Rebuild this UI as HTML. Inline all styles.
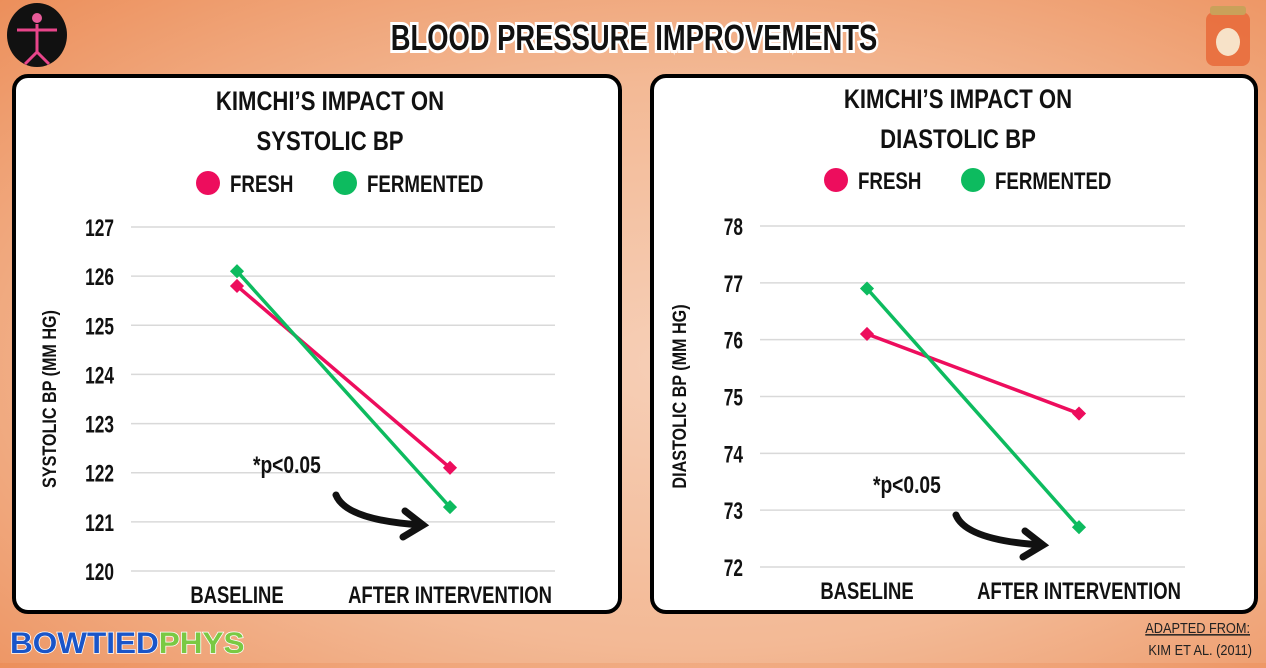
<!DOCTYPE html>
<html><head><meta charset="utf-8"><style>
html,body{margin:0;padding:0;}
body{width:1266px;height:663px;overflow:hidden;background:radial-gradient(ellipse at 55% 55%,#f6cfb7 0%,#f3b995 55%,#ec8f5b 100%);font-family:"Liberation Sans",sans-serif;}
svg text{font-family:"Liberation Sans",sans-serif;font-weight:bold;}
</style></head><body>
<svg id="s" width="1266" height="663" xmlns="http://www.w3.org/2000/svg">
<g><ellipse cx="37" cy="35" rx="30" ry="32" fill="#111"/><circle cx="37" cy="18" r="5" fill="#e85c9a"/><path d="M37 24 V52 M17 30 H57 M37 52 L25 64 M37 52 L49 64" stroke="#e8458a" stroke-width="3" fill="none"/></g>
<text transform="translate(634,50) scale(0.76,1)" text-anchor="middle" font-size="36" fill="#111" stroke="#fff" stroke-width="6" paint-order="stroke">BLOOD PRESSURE IMPROVEMENTS</text>
<g><rect x="1206" y="12" width="44" height="54" rx="8" fill="#e86a3a" opacity="0.85"/><rect x="1210" y="6" width="36" height="9" rx="3" fill="#c9a15a"/><ellipse cx="1228" cy="42" rx="12" ry="14" fill="#f7e2c8"/></g>
<rect x="14" y="76" width="606" height="536" rx="14" fill="#fff" stroke="#000" stroke-width="4"/>
<rect x="652" y="76" width="604" height="536" rx="14" fill="#fff" stroke="#000" stroke-width="4"/>
<g id="c1"></g>
<g id="c2"></g>
<text transform="translate(10,653) scale(1.05,1)" font-size="30" fill="#1a55c8" stroke="#fff" stroke-width="1.5" paint-order="stroke" font-family="Liberation Mono">BOWTIED<tspan fill="#7ac943">PHYS</tspan></text>
<text transform="translate(1250,633) scale(0.85,1)" text-anchor="end" font-size="15" fill="#222" style="font-weight:normal" text-decoration="underline">ADAPTED FROM:</text>
<text transform="translate(1252,655) scale(0.85,1)" text-anchor="end" font-size="15" fill="#222" style="font-weight:normal">KIM ET AL. (2011)</text>
</svg>
<script>
const categories=["Baseline","After Intervention"];
const sysFresh=[125.8,122.1];
const sysFerm=[126.1,121.3];
const sysTicks=[120,121,122,123,124,125,126,127];
const diaFresh=[76.1,74.7];
const diaFerm=[76.9,72.7];
const diaTicks=[72,73,74,75,76,77,78];
const NS="http://www.w3.org/2000/svg";
function mk(p,t,a){const e=document.createElementNS(NS,t);for(const k in a)e.setAttribute(k,a[k]);p.appendChild(e);return e;}
function txt(p,x,y,s,size,anchor,sx,extra){const e=mk(p,'text',Object.assign({transform:`translate(${x},${y}) ${extra||''} scale(${sx},1)`,'text-anchor':anchor,'font-size':size,fill:'#111'}));e.textContent=s;return e;}
function chart(id,o){
 const g=document.getElementById(id);
 const ymin=o.ticks[0],ymax=o.ticks[o.ticks.length-1];
 const y=v=>o.yb-(v-ymin)/(ymax-ymin)*(o.yb-o.yt);
 const x=i=>o.xs[0]+i*(o.xs[1]-o.xs[0]);
 let t=txt(g,o.cx,o.ty,"KIMCHI’S IMPACT ON",27,'middle',0.82);
 
 t=txt(g,o.cx,o.ty+40,o.title,27,'middle',0.82);
 
 [[o.cx-122,"#ed0d5d","Fresh"],[o.cx+15,"#0dbb5f","Fermented"]].forEach(([lx,c,n])=>{
  const lg=mk(g,'g',{});
  
  
  mk(lg,'circle',{cx:lx,cy:o.ly,r:12,fill:c});
  txt(lg,lx+22,o.ly+9,n.toUpperCase(),24,'start',0.78);
 });
 o.ticks.forEach(v=>{
  const l=mk(g,'line',{x1:o.gx[0],x2:o.gx[1],y1:y(v),y2:y(v),stroke:'#d9d9d9','stroke-width':1.5});
  
  const tl=txt(g,o.gx[0]-17,y(v)+9,String(v),24,'end',0.72);
  
 });
 const at=txt(g,o.ax,(o.yt+o.yb)/2,o.ytitle,19,'middle',0.85,'rotate(-90)');
 
 categories.forEach((c,i)=>{const ct=txt(g,x(i),o.yb+32,c.toUpperCase(),24,'middle',0.77);
  });
 [[o.fresh,"#ed0d5d","fresh"],[o.ferm,"#0dbb5f","fermented"]].forEach(([d,c,n])=>{
  const pl=mk(g,'polyline',{points:d.map((v,i)=>x(i)+','+y(v)).join(' '),fill:'none',stroke:c,'stroke-width':3.5});
  
  d.forEach((v,i)=>{const p=mk(g,'rect',{x:x(i)-5,y:y(v)-5,width:10,height:10,fill:c,transform:`rotate(45 ${x(i)} ${y(v)})`});
   });
 });
 const pt=txt(g,o.px,o.py,"*p<0.05",24,'start',0.8);
 
 const ar=mk(g,'path',{d:`M${o.px+83} ${o.py+22} q10 25 85 30 m-16 -14 l18 14 l-20 12`,fill:'none',stroke:'#111','stroke-width':7,'stroke-linecap':'round'});
 
}
chart('c1',{cx:330,ty:110,ly:183,ticks:sysTicks,yt:227,yb:571,gx:[131,555],xs:[237,450],fresh:sysFresh,ferm:sysFerm,ytitle:"SYSTOLIC BP (MM HG)",ax:56,title:"SYSTOLIC BP",px:253,py:473});
chart('c2',{cx:958,ty:108,ly:180,ticks:diaTicks,yt:226,yb:567,gx:[760,1185],xs:[867,1079],fresh:diaFresh,ferm:diaFerm,ytitle:"DIASTOLIC BP (MM HG)",ax:686,title:"DIASTOLIC BP",px:873,py:493});
</script>
</body></html>
